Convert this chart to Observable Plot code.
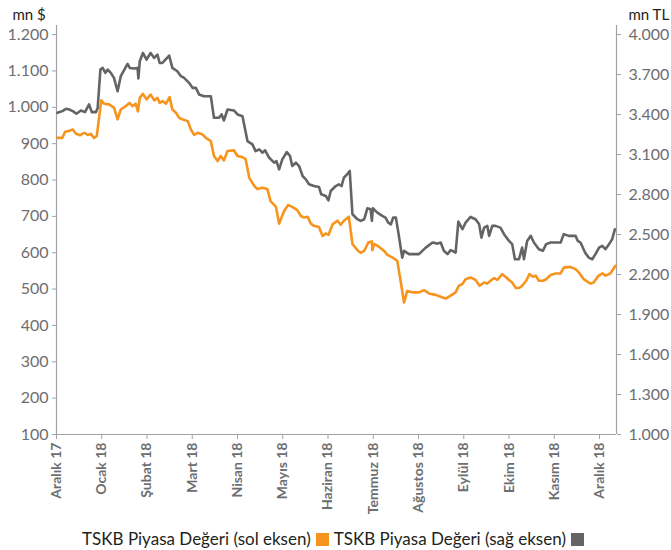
<!DOCTYPE html>
<html>
<head>
<meta charset="utf-8">
<script src="https://cdn.jsdelivr.net/npm/d3@7"></script>
<script src="https://cdn.jsdelivr.net/npm/@observablehq/plot@0.6"></script>
<style>
  body { margin: 0; background: #fff; font-family: Lato, sans-serif; }
  #chart { width: 671px; height: 520px; }
  #legend { width: 671px; margin-top: 9px; text-align: center; font-size: 17px; line-height: 20px; color: #231f20; white-space: nowrap; }
  .sw { display: inline-block; width: 13px; height: 13px; vertical-align: -1px; margin: 0 5px 0 5px; }
</style>
</head>
<body>
<div id="chart"></div>
<div id="legend"></div>
<script>
// x positions are months after the "Aralık 17" tick (0 = Aralık 17, 12 = Aralık 18)
const monthLabels = ["Aralık 17","Ocak 18","Şubat 18","Mart 18","Nisan 18","Mayıs 18","Haziran 18","Temmuz 18","Ağustos 18","Eylül 18","Ekim 18","Kasım 18","Aralık 18"];
const leftTicks = [100,200,300,400,500,600,700,800,900,1000,1100,1200];
const rightTicks = [1000,1300,1600,1900,2200,2500,2800,3100,3400,3700,4000];
const seriesNames = ["TSKB Piyasa Değeri (sol eksen)", "TSKB Piyasa Değeri (sağ eksen)"];

// TSKB market value, mn $ (left axis)
const usdT = [0.02,0.13,0.19,0.27,0.36,0.43,0.52,0.61,0.69,0.76,
  0.83,0.89,0.94,0.99,1.05,1.16,1.27,1.35,1.42,1.53,
  1.61,1.68,1.75,1.80,1.84,1.91,1.99,2.08,2.16,2.23,
  2.28,2.34,2.42,2.50,2.56,2.64,2.71,2.78,2.90,2.97,
  3.04,3.12,3.23,3.30,3.41,3.48,3.56,3.63,3.70,3.78,
  3.92,4.00,4.11,4.18,4.26,4.37,4.44,4.55,4.66,
  4.73,4.85,4.92,5.03,5.12,5.21,5.32,5.40,5.47,5.55,
  5.62,5.69,5.80,5.88,5.95,6.01,6.10,6.21,6.28,6.35,
  6.46,6.54,6.65,6.72,6.80,6.89,6.97,6.98,7.02,7.13,
  7.24,7.31,7.42,7.53,7.61,7.68,7.75,7.86,8.01,8.12,
  8.23,8.38,8.49,8.60,8.71,8.82,8.89,8.97,9.04,9.15,
  9.26,9.35,9.45,9.52,9.59,9.67,9.74,9.85,9.92,10.00,
  10.07,10.15,10.22,10.29,10.38,10.45,10.53,10.59,10.66,10.75,
  10.82,10.92,11.03,11.14,11.21,11.35,11.47,11.54,11.65,11.80,
  11.87,11.98,12.07,12.13,12.24,12.35];
const usdV = [916,916,933,935,939,927,923,930,924,927,
  916,921,971,1019,1010,1008,999,967,994,1003,
  1012,1003,1010,989,1026,1037,1022,1035,1019,1026,
  1012,1017,1010,1028,994,985,971,967,962,939,
  924,930,925,916,907,866,852,866,854,880,
  882,866,863,857,806,784,775,779,775,
  742,726,680,715,731,726,717,701,697,699,
  680,674,671,646,653,649,678,688,677,688,
  699,624,607,600,605,628,631,607,624,616,
  605,594,587,578,518,463,495,491,491,497,
  488,484,479,474,482,491,509,514,527,532,
  525,509,518,515,523,530,525,541,534,525,
  518,503,503,509,523,541,534,537,523,523,
  527,539,543,543,559,561,555,546,527,515,
  518,537,543,537,543,564];

// TSKB market value, mn TL (right axis)
const tlT = [0.02,0.13,0.21,0.28,0.36,0.44,0.54,0.63,0.72,0.78,
  0.87,0.91,0.97,1.02,1.08,1.13,1.20,1.27,1.35,1.42,
  1.50,1.57,1.62,1.72,1.79,1.81,1.84,1.91,1.99,2.08,
  2.16,2.23,2.28,2.34,2.49,2.56,2.67,2.75,2.82,2.93,
  3.01,3.08,3.15,3.26,3.41,3.48,3.59,3.65,3.70,3.78,
  3.92,4.00,4.11,4.22,4.33,4.40,4.48,4.55,4.61,4.70,
  4.81,4.86,4.92,4.99,5.09,5.16,5.21,5.29,5.36,5.44,
  5.51,5.58,5.69,5.80,5.85,5.95,6.01,6.06,6.17,6.24,
  6.30,6.35,6.41,6.48,6.54,6.65,6.72,6.80,6.87,6.94,
  6.97,6.99,7.09,7.20,7.27,7.33,7.39,7.44,7.50,7.56,
  7.64,7.68,7.79,8.01,8.16,8.31,8.42,8.49,8.56,8.64,
  8.71,8.82,8.88,8.97,9.04,9.15,9.26,9.34,9.39,9.45,
  9.52,9.56,9.63,9.70,9.81,9.89,10.00,10.07,10.13,10.22,
  10.29,10.33,10.40,10.48,10.55,10.66,10.75,10.82,10.92,11.03,
  11.14,11.21,11.32,11.47,11.52,11.58,11.68,11.76,11.84,11.91,
  11.99,12.06,12.13,12.21,12.28,12.34];
const tlV = [3413,3426,3443,3438,3426,3406,3431,3418,3476,3418,
  3418,3450,3738,3750,3713,3738,3713,3675,3575,3688,
  3738,3780,3750,3745,3750,3671,3800,3862,3813,3862,
  3825,3850,3787,3787,3843,3750,3725,3688,3675,3638,
  3600,3600,3551,3538,3538,3376,3376,3401,3356,3438,
  3431,3401,3388,3201,3176,3126,3139,3114,3132,3076,
  3039,3051,2989,3064,3119,3089,3014,3039,3014,2939,
  2914,2877,2864,2857,2802,2789,2757,2827,2864,2877,
  2864,2926,2947,2977,2652,2615,2602,2615,2697,2690,
  2602,2697,2664,2640,2627,2589,2577,2627,2627,2503,
  2327,2378,2353,2353,2402,2440,2432,2440,2378,2353,
  2383,2365,2597,2540,2589,2632,2615,2577,2477,2552,
  2565,2490,2565,2565,2552,2503,2452,2428,2315,2315,
  2402,2315,2452,2490,2440,2390,2378,2428,2440,2440,
  2440,2503,2490,2490,2452,2440,2365,2327,2315,2353,
  2402,2415,2390,2428,2465,2540];

const ORANGE = "#f7941d";
const GRAY = "#636466";
const AXIS = "#a0a2a5";
const LABEL = "#6d6e71";

const zip = (ts, vs) => d3.range(Math.min(ts.length, vs.length)).map(i => ({t: ts[i], v: vs[i]}));
const usdData = zip(usdT, usdV);
const tlData = zip(tlT, tlV);

// right (TL) axis mapped onto the left ($) scale: 1.000 TL ↔ 100 $, 4.000 TL ↔ 1.200 $
const tl2usd = v => 100 + (v - 1000) * 1100 / 3000;
const usd2tl = v => 1000 + (v - 100) * 3000 / 1100;
const fmt = v => d3.format(",")(v).replace(/,/g, ".");

const xMax = 12.375;
const yTop = 1225;

const chart = Plot.plot({
  width: 671,
  height: 520,
  marginLeft: 56,
  marginRight: 55,
  marginTop: 25,
  marginBottom: 86,
  style: {fontFamily: "Lato, sans-serif", background: "#fff", overflow: "visible"},
  x: {domain: [0, xMax]},
  y: {domain: [100, yTop]},
  marks: [
    Plot.axisY({anchor: "left", ticks: leftTicks, tickFormat: fmt, tickSize: 4, tickPadding: 4,
      fontSize: 16, stroke: AXIS, fill: LABEL, label: null}),
    Plot.axisY({anchor: "right", ticks: rightTicks.map(tl2usd), tickFormat: d => fmt(Math.round(usd2tl(d))),
      tickSize: 4, tickPadding: 8, fontSize: 16, stroke: AXIS, fill: LABEL, label: null}),
    Plot.axisX({ticks: d3.range(monthLabels.length), tickFormat: i => monthLabels[i], tickRotate: -90,
      tickSize: 5, tickPadding: 3, fontSize: 14, fontWeight: "bold", stroke: AXIS, fill: LABEL, label: null}),
    Plot.ruleX([0], {stroke: AXIS, strokeWidth: 1.2}),
    Plot.ruleX([xMax], {stroke: AXIS, strokeWidth: 1.2}),
    Plot.ruleY([100], {stroke: AXIS, strokeWidth: 1.2}),
    Plot.line(tlData, {x: "t", y: d => tl2usd(d.v), stroke: GRAY, strokeWidth: 2.6, strokeLinejoin: "round"}),
    Plot.line(usdData, {x: "t", y: "v", stroke: ORANGE, strokeWidth: 2.6, strokeLinejoin: "round"}),
    Plot.text(["mn $"], {text: d => d, frameAnchor: "top-left", dx: -44, dy: -16, textAnchor: "start", fontSize: 15, fill: "#231f20"}),
    Plot.text(["mn TL"], {text: d => d, frameAnchor: "top-right", dx: 12, dy: -16, textAnchor: "start", fontSize: 15, fill: "#231f20"})
  ]
});
document.getElementById("chart").appendChild(chart);

const legend = document.getElementById("legend");
legend.innerHTML =
  `<span>${seriesNames[0]}</span><span class="sw" style="background:${ORANGE}"></span>` +
  `<span>${seriesNames[1]}</span><span class="sw" style="background:${GRAY}"></span>`;
</script>
</body>
</html>
